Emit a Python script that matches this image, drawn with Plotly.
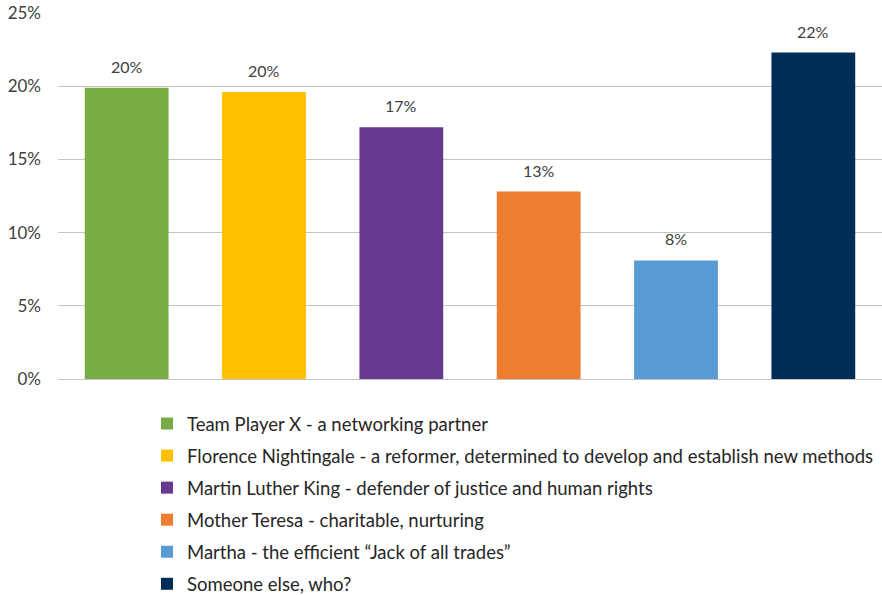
import plotly.graph_objects as go

categories = [
    "Team Player X - a networking partner",
    "Florence Nightingale - a reformer, determined to develop and establish new methods",
    "Martin Luther King - defender of justice and human rights",
    "Mother Teresa - charitable, nurturing",
    "Martha - the efficient \u201cJack of all trades\u201d",
    "Someone else, who?",
]
values = [0.199, 0.196, 0.172, 0.128, 0.081, 0.223]
labels = ["20%", "20%", "17%", "13%", "8%", "22%"]
colors = ["#77AB43", "#FFC000", "#663A8E", "#ED7D31", "#5B9BD5", "#002D56"]

FONT = "Lato, 'Open Sans', sans-serif"

fig = go.Figure()
for i, (c, v, col) in enumerate(zip(categories, values, colors)):
    fig.add_trace(go.Bar(
        x=[c], y=[v], name=c, marker_color=col, marker_line_width=0,
        legendgroup=f"g{i}", showlegend=True,
    ))
    fig.add_annotation(
        x=c, y=v, text=labels[i], showarrow=False, yanchor="bottom", yshift=10,
        font=dict(size=16, color="#404040", family=FONT),
    )

fig.update_layout(
    width=882, height=595,
    margin=dict(l=58, r=0, t=13, b=216, autoexpand=False),
    paper_bgcolor="white", plot_bgcolor="white",
    bargap=0.39,
    font=dict(family=FONT, color="#404040"),
    legend=dict(
        x=0.108, y=0.3193, xref="paper", yref="container",
        xanchor="left", yanchor="top",
        font=dict(size=18.5, color="#262626", family=FONT),
        tracegroupgap=5, itemwidth=30, traceorder="grouped",
    ),
    xaxis=dict(
        categoryorder="array", categoryarray=categories,
        showticklabels=False, showgrid=False, zeroline=False,
        showline=False, range=[-0.5, 5.5],
    ),
    yaxis=dict(
        range=[0, 0.25], dtick=0.05, tickformat=".0%",
        showgrid=True, gridcolor="#C4C4C4", gridwidth=1.3,
        zeroline=True, zerolinecolor="#C4C4C4", zerolinewidth=1.3,
        tickfont=dict(size=17, color="#404040", family=FONT),
        ticklabelstandoff=16,
    ),
)

fig.write_html("out.html")
